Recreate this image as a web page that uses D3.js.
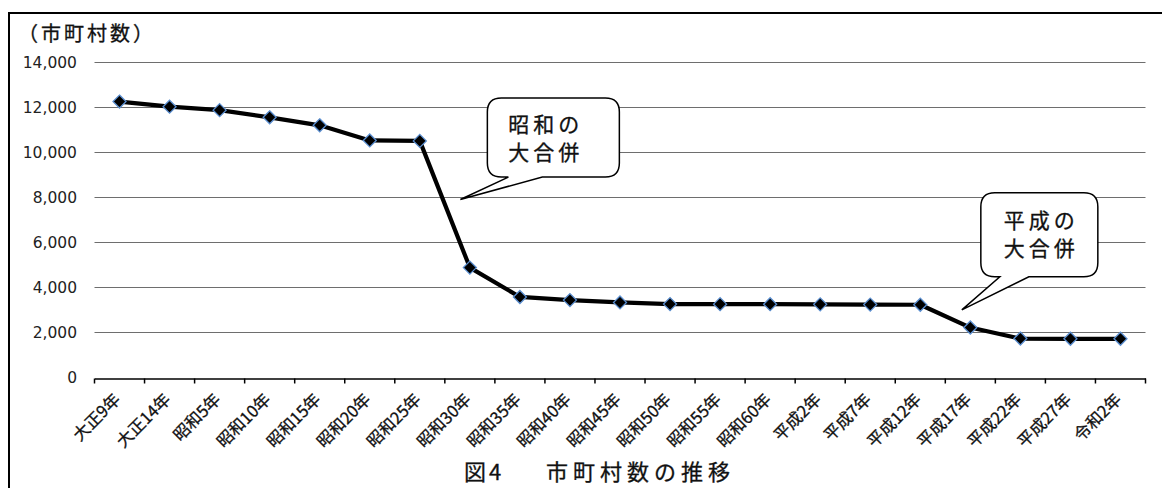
<!DOCTYPE html>
<html><head><meta charset="utf-8">
<script src="https://cdn.jsdelivr.net/npm/d3@7"></script>
<style>
html,body{margin:0;padding:0;background:#fff;}
svg{display:block;}
</style></head>
<body>
<svg id="c" width="1162" height="488"></svg>
<script>
const categories = ["大正9年","大正14年","昭和5年","昭和10年","昭和15年","昭和20年","昭和25年","昭和30年","昭和35年","昭和40年","昭和45年","昭和50年","昭和55年","昭和60年","平成2年","平成7年","平成12年","平成17年","平成22年","平成27年","令和2年"];
const values = [12244,12018,11864,11545,11190,10520,10500,4877,3574,3435,3331,3257,3255,3253,3246,3234,3229,2217,1727,1718,1718];
const yTicks = [0,2000,4000,6000,8000,10000,12000,14000];
const yTitle = "（市町村数）";
const titleParts = ["図4","市町村数の推移"];
const notes = [
  {lines:["昭和の","大合併"], at:"昭和30年"},
  {lines:["平成の","大合併"], at:"平成17年"}
];

const svg = d3.select("#c");
const jp = "'Noto Sans CJK JP','Noto Sans CJK SC',sans-serif";
const num = "'DejaVu Sans',Verdana,sans-serif";

// outer frame (cropped: only left & top visible)
svg.append("path").attr("d","M9,1000 L9,13 L1300,13").attr("fill","none").attr("stroke","#000").attr("stroke-width",2);

const x = d3.scaleBand().domain(categories).range([94.5,1145.5]).padding(0);
const y = d3.scaleLinear().domain([0,14000]).range([377.5,62]);
const cx = c => x(c) + x.bandwidth()/2;

// gridlines
svg.append("g").selectAll("line").data(yTicks.filter(d=>d>0)).join("line")
  .attr("x1",94.5).attr("x2",1145.5)
  .attr("y1",d=>Math.round(y(d))+0.5).attr("y2",d=>Math.round(y(d))+0.5)
  .attr("stroke","#6e6e6e").attr("stroke-width",1);

// y labels
svg.append("g").selectAll("text").data(yTicks).join("text")
  .attr("x",77).attr("y",d=>y(d)).attr("dy","0.36em")
  .attr("text-anchor","end").attr("font-family",num).attr("font-size",15.5).attr("fill","#222")
  .text(d=>d3.format(",")(d));

// x axis
const xa = svg.append("g").attr("transform",`translate(0,${Math.round(y(0))+0.5})`)
  .call(d3.axisBottom(x).tickSize(0).tickFormat(""));
xa.select(".domain").attr("stroke","#000").attr("stroke-width",1.5);
const bounds = categories.map(c=>x(c)).concat([x.range()[1]]);
xa.selectAll(".tk").data(bounds).join("line").attr("class","tk")
  .attr("x1",d=>d).attr("x2",d=>d).attr("y1",0).attr("y2",5).attr("stroke","#000").attr("stroke-width",1.5);

// x labels
svg.append("g").selectAll("text").data(categories).join("text")
  .attr("transform",c=>`translate(${cx(c)+2},${y(0)+23}) rotate(-45)`)
  .attr("text-anchor","end").attr("font-family",jp).attr("font-size",16.5).attr("fill","#111")
  .attr("stroke","#111").attr("stroke-width",0.3)
  .text(c=>c);

// line
const line = d3.line().x((d,i)=>cx(categories[i])).y(d=>y(d));
svg.append("path").datum(values).attr("d",line).attr("fill","none")
  .attr("stroke","#000").attr("stroke-width",4.2).attr("stroke-linejoin","round");

// markers
svg.append("g").selectAll("path").data(values).join("path")
  .attr("transform",(d,i)=>`translate(${cx(categories[i])},${y(d)})`)
  .attr("d","M0,-6.5 L6.5,0 L0,6.5 L-6.5,0 Z")
  .attr("fill","#000").attr("stroke","#5a8ed0").attr("stroke-width",1.3);

// callouts
function callout(bx,by,bw,bh,r,p1,p2,tx,ty){
  const x0=bx,y0=by,x1=bx+bw,y1=by+bh;
  return `M${x0+r},${y0} L${x1-r},${y0} Q${x1},${y0} ${x1},${y0+r} L${x1},${y1-r} Q${x1},${y1} ${x1-r},${y1} `+
    `L${p2},${y1} L${tx},${ty} L${p1},${y1} L${x0+r},${y1} Q${x0},${y1} ${x0},${y1-r} L${x0},${y0+r} Q${x0},${y0} ${x0+r},${y0} Z`;
}
const boxes = [
  {dx:17.5, top:12400, bw:132, bh:79, p1:21, p2:55, tdx:-9.5, tv:7900, tx:21, t1:34},
  {dx:10.5, top:8200, bw:117, bh:84, p1:19, p2:48, tdx:-8.5, tv:3000, tx:23, t1:35}
];
boxes.forEach((b,i)=>{
  const n = notes[i];
  const bx = cx(n.at)+b.dx, by = y(b.top);
  const tx = cx(n.at)+b.tdx, ty = y(b.tv);
  svg.append("path").attr("d",callout(bx,by,b.bw,b.bh,14,bx+b.p1,bx+b.p2,tx,ty))
    .attr("fill","#fff").attr("stroke","#000").attr("stroke-width",1.5);
  n.lines.forEach((t,j)=>{
    svg.append("text").attr("x",bx+b.tx).attr("y",by+b.t1+j*28)
      .attr("font-family",jp).attr("font-size",21).attr("letter-spacing",4).attr("fill","#111")
      .attr("stroke","#111").attr("stroke-width",0.3).text(t);
  });
});

// y title
svg.append("text").attr("x",18).attr("y",41).attr("font-family",jp).attr("font-size",20)
  .attr("letter-spacing",3).attr("fill","#111").attr("stroke","#111").attr("stroke-width",0.3).text(yTitle);

// chart title
svg.append("text").attr("x",464).attr("y",480).attr("font-family",jp).attr("font-size",22)
  .attr("letter-spacing",3).attr("fill","#111").attr("stroke","#111").attr("stroke-width",0.3).text(titleParts[0]);
svg.append("text").attr("x",546).attr("y",480).attr("font-family",jp).attr("font-size",22)
  .attr("letter-spacing",5).attr("fill","#111").attr("stroke","#111").attr("stroke-width",0.3).text(titleParts[1]);
</script>
</body></html>
